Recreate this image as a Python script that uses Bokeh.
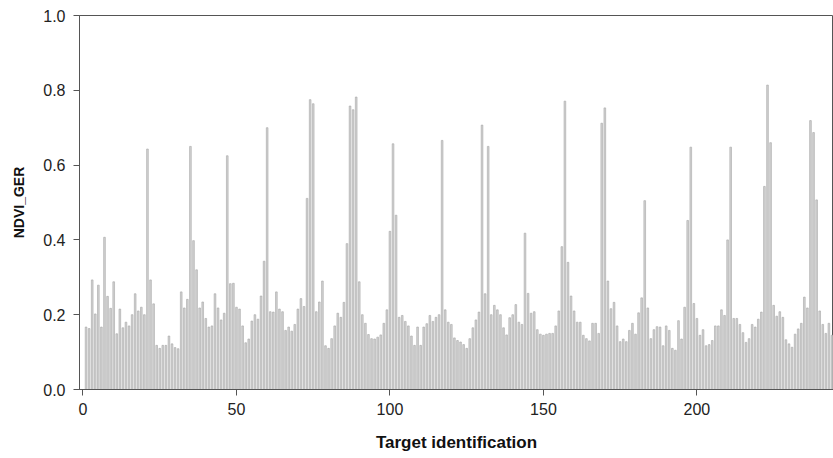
from bokeh.plotting import figure
from bokeh.models import Range1d, FixedTicker, NumeralTickFormatter, ColumnDataSource
from bokeh.embed import file_html
from bokeh.resources import INLINE

# NDVI_GER value for target identification 1..244
ndvi_ger = [
    0.167, 0.163, 0.293, 0.202, 0.279, 0.167, 0.407, 0.249, 0.217, 0.288,
    0.149, 0.215, 0.165, 0.180, 0.170, 0.200, 0.256, 0.210, 0.220, 0.200,
    0.643, 0.293, 0.229, 0.118, 0.110, 0.118, 0.118, 0.143, 0.122, 0.112,
    0.109, 0.261, 0.218, 0.241, 0.650, 0.398, 0.320, 0.218, 0.234, 0.190,
    0.167, 0.170, 0.256, 0.218, 0.186, 0.204, 0.625, 0.283, 0.284, 0.220,
    0.215, 0.170, 0.125, 0.135, 0.183, 0.200, 0.188, 0.250, 0.343, 0.700,
    0.208, 0.207, 0.261, 0.215, 0.208, 0.158, 0.167, 0.156, 0.174, 0.215,
    0.243, 0.222, 0.511, 0.775, 0.764, 0.208, 0.234, 0.290, 0.117, 0.110,
    0.136, 0.170, 0.204, 0.193, 0.233, 0.390, 0.758, 0.748, 0.782, 0.288,
    0.200, 0.177, 0.147, 0.136, 0.135, 0.140, 0.146, 0.177, 0.213, 0.423,
    0.657, 0.466, 0.193, 0.198, 0.182, 0.170, 0.143, 0.118, 0.167, 0.118,
    0.167, 0.176, 0.198, 0.182, 0.193, 0.200, 0.666, 0.213, 0.180, 0.174,
    0.138, 0.131, 0.127, 0.120, 0.110, 0.136, 0.165, 0.186, 0.207, 0.707,
    0.256, 0.650, 0.200, 0.225, 0.213, 0.200, 0.165, 0.146, 0.192, 0.200,
    0.227, 0.180, 0.174, 0.418, 0.257, 0.204, 0.208, 0.160, 0.148, 0.145,
    0.148, 0.150, 0.150, 0.170, 0.210, 0.382, 0.771, 0.340, 0.250, 0.210,
    0.180, 0.180, 0.145, 0.136, 0.130, 0.177, 0.177, 0.150, 0.712, 0.753,
    0.290, 0.216, 0.233, 0.170, 0.128, 0.135, 0.128, 0.158, 0.177, 0.148,
    0.205, 0.245, 0.505, 0.218, 0.136, 0.160, 0.168, 0.167, 0.117, 0.170,
    0.158, 0.110, 0.105, 0.184, 0.135, 0.220, 0.452, 0.648, 0.230, 0.190,
    0.145, 0.160, 0.117, 0.120, 0.131, 0.170, 0.170, 0.213, 0.198, 0.400,
    0.648, 0.190, 0.190, 0.174, 0.152, 0.126, 0.136, 0.174, 0.167, 0.188,
    0.207, 0.543, 0.814, 0.660, 0.225, 0.196, 0.208, 0.193, 0.133, 0.122,
    0.113, 0.148, 0.162, 0.177, 0.247, 0.218, 0.719, 0.687, 0.507, 0.210,
    0.174, 0.150, 0.177, 0.145,
]
target_id = list(range(1, len(ndvi_ger) + 1))
x_ticks = [0, 50, 100, 150, 200]
y_ticks = [0.0, 0.2, 0.4, 0.6, 0.8, 1.0]

source = ColumnDataSource(data=dict(x=target_id, top=ndvi_ger))

p = figure(width=833, height=458, output_backend="svg", toolbar_location=None,
           x_range=Range1d(-1.14, 244.5), y_range=Range1d(0, 1.0),
           min_border_left=79, min_border_right=0, min_border_top=15,
           min_border_bottom=69)

p.vbar(x="x", top="top", width=0.55, bottom=0, source=source,
       fill_color="#d2d2d2", line_color="#a6a6a6", line_width=0.6)

p.xgrid.visible = False
p.ygrid.visible = False
p.outline_line_color = "#555555"
p.outline_line_width = 1

font = "Liberation Sans"
for ax in (p.xaxis[0], p.yaxis[0]):
    ax.axis_line_color = "#555555"
    ax.major_tick_line_color = "#555555"
    ax.major_tick_out = 6
    ax.major_tick_in = 0
    ax.minor_tick_line_color = None
    ax.major_label_text_font = font
    ax.major_label_text_font_size = "16px"
    ax.major_label_text_color = "#222222"
    ax.axis_label_text_font = font
    ax.axis_label_text_font_style = "bold"
    ax.axis_label_text_color = "#111111"

p.xaxis.ticker = FixedTicker(ticks=x_ticks)
p.yaxis.ticker = FixedTicker(ticks=y_ticks)
p.yaxis.formatter = NumeralTickFormatter(format="0.0")
p.xaxis.axis_label = "Target identification"
p.yaxis.axis_label = "NDVI_GER"
p.xaxis.axis_label_text_font_size = "17px"
p.yaxis.axis_label_text_font_size = "14px"
p.xaxis.major_label_standoff = 7
p.yaxis.major_label_standoff = 8
p.xaxis.axis_label_standoff = 15
p.yaxis.axis_label_standoff = 13

open("out.html", "w").write(file_html(p, INLINE))
